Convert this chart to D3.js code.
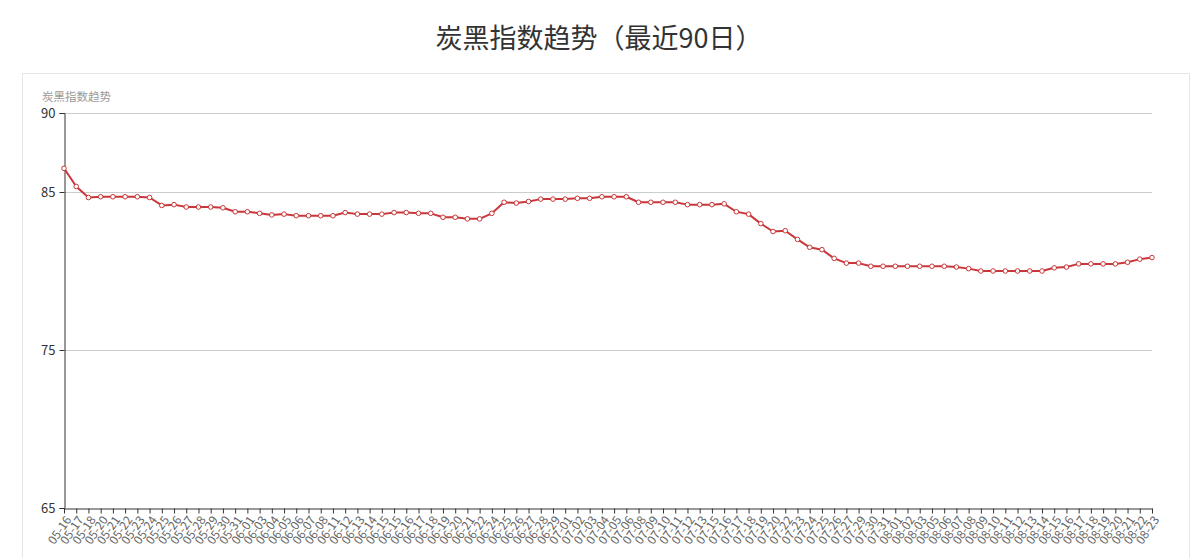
<!DOCTYPE html>
<html>
<head>
<meta charset="utf-8">
<script src="https://cdn.jsdelivr.net/npm/d3@7/dist/d3.min.js"></script>
<style>
  html, body { margin: 0; padding: 0; background: #fff; }
  svg { display: block; font-family: "Noto Sans CJK SC", "Noto Sans", sans-serif; }
</style>
</head>
<body>
<svg id="chart" width="1200" height="558"></svg>
<script>
const dates = ["05-16","05-17","05-18","05-20","05-21","05-22","05-23","05-24","05-25","05-26",
  "05-27","05-28","05-29","05-30","05-31","06-01","06-03","06-04","06-05","06-06",
  "06-07","06-08","06-11","06-12","06-13","06-14","06-15","06-15","06-16","06-17",
  "06-18","06-19","06-20","06-21","06-22","06-24","06-25","06-26","06-27","06-28",
  "06-29","07-01","07-02","07-03","07-04","07-05","07-06","07-08","07-09","07-10",
  "07-11","07-12","07-13","07-15","07-16","07-17","07-18","07-19","07-20","07-22",
  "07-23","07-24","07-25","07-26","07-27","07-29","07-30","07-31","08-01","08-02",
  "08-03","08-05","08-06","08-07","08-08","08-09","08-10","08-11","08-12","08-13",
  "08-14","08-15","08-16","08-17","08-18","08-19","08-20","08-21","08-22","08-23"];
const values = [86.5,85.35,84.65,84.7,84.7,84.7,84.7,84.65,84.15,84.2,
  84.05,84.05,84.05,84.0,83.75,83.75,83.65,83.55,83.6,83.5,
  83.5,83.5,83.5,83.7,83.6,83.6,83.6,83.7,83.7,83.65,
  83.65,83.4,83.4,83.3,83.3,83.65,84.35,84.3,84.4,84.55,
  84.55,84.55,84.6,84.6,84.7,84.7,84.7,84.35,84.35,84.35,
  84.35,84.2,84.2,84.2,84.25,83.75,83.6,83.0,82.5,82.55,
  82.0,81.5,81.35,80.8,80.5,80.5,80.3,80.3,80.3,80.3,
  80.3,80.3,80.3,80.25,80.15,80.0,80.0,80.0,80.0,80.0,
  80.0,80.2,80.25,80.45,80.45,80.45,80.45,80.55,80.75,80.85];
const yTicks = [65, 75, 85, 90];
const titleText = "炭黑指数趋势（最近90日）";
const yAxisName = "炭黑指数趋势";

(function () {
const svg = d3.select("#chart");
const mLeft = 64, mRight = 1152, mTop = 113, mBottom = 508;

// frame
svg.append("rect").attr("x", 22.5).attr("y", 73.5).attr("width", 1167).attr("height", 520)
  .attr("fill", "none").attr("stroke", "#e6e6e6");

svg.append("text").attr("x", 599).attr("y", 48).attr("text-anchor", "middle")
  .attr("font-size", 27).attr("fill", "#333").text(titleText);

const x = d3.scalePoint().domain(d3.range(dates.length)).range([mLeft, mRight]);
const y = d3.scaleLinear().domain([65, 90]).range([mBottom, mTop]);

// grid
svg.append("g").selectAll("line").data(yTicks.filter(t => t !== 65)).join("line")
  .attr("x1", mLeft).attr("x2", mRight)
  .attr("y1", d => Math.round(y(d)) + 0.5).attr("y2", d => Math.round(y(d)) + 0.5)
  .attr("stroke", "#ccc");

// y axis
const yAxis = svg.append("g").attr("transform", `translate(${mLeft + 0.5},0)`)
  .call(d3.axisLeft(y).tickValues(yTicks).tickSize(5).tickFormat(d3.format("d")));
yAxis.select(".domain").attr("stroke", "#333");
yAxis.selectAll(".tick line").attr("stroke", "#333");
yAxis.selectAll(".tick text").attr("font-size", 13).attr("fill", "#333")
  .attr("font-family", "'Noto Sans CJK SC', sans-serif").attr("dx", "-1");

svg.append("text").attr("x", 42).attr("y", 101).attr("font-size", 11.5).attr("fill", "#999")
  .text(yAxisName);

// x axis
const xAxis = svg.append("g").attr("transform", `translate(0,${mBottom + 0.5})`)
  .call(d3.axisBottom(x).tickSize(5).tickSizeOuter(0).tickFormat(i => dates[i]));
xAxis.select(".domain").attr("stroke", "#333");
xAxis.selectAll(".tick line").attr("stroke", "#333");
xAxis.selectAll(".tick text")
  .attr("font-size", 12).attr("fill", "#666")
  .attr("font-family", "'Noto Sans CJK SC', sans-serif")
  .attr("text-anchor", "end").attr("dy", "0.35em").attr("y", 0)
  .attr("transform", "translate(4,9) rotate(-55)");

// line
const line = d3.line().x((d, i) => x(i)).y(d => y(d));
svg.append("path").datum(values).attr("d", line)
  .attr("fill", "none").attr("stroke", "#c9373a").attr("stroke-width", 2)
  .attr("stroke-linejoin", "round");

svg.append("g").selectAll("circle").data(values).join("circle")
  .attr("cx", (d, i) => x(i)).attr("cy", d => y(d)).attr("r", 2.3)
  .attr("fill", "#fff").attr("stroke", "#c9373a").attr("stroke-width", 1);
})();
</script>
</body>
</html>
